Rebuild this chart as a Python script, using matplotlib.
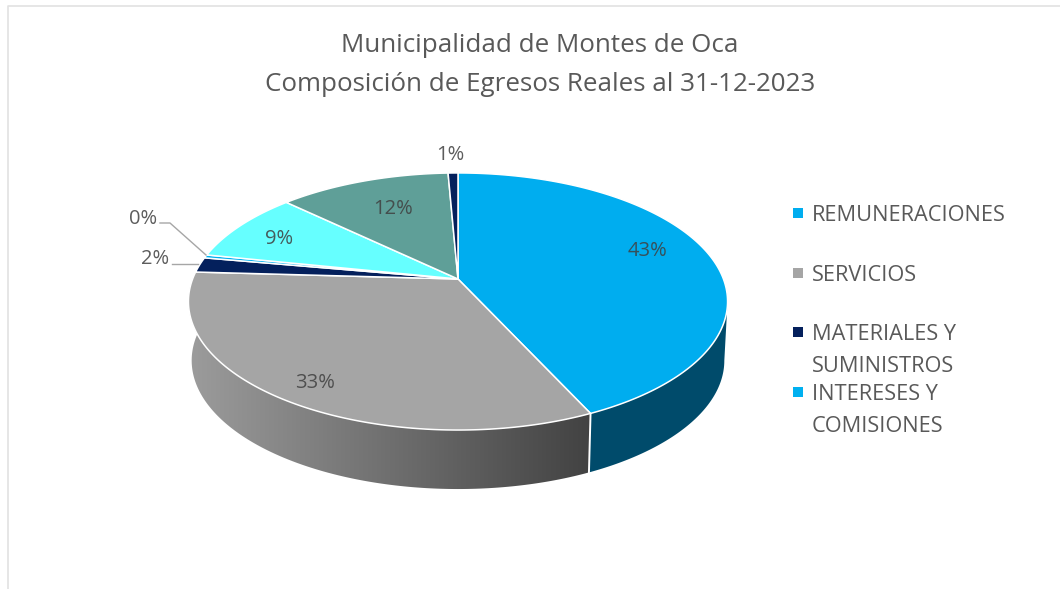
import numpy as np
import matplotlib
matplotlib.use("Agg")
import matplotlib.pyplot as plt
from matplotlib.colors import LinearSegmentedColormap
from matplotlib.patches import Polygon

# Datos
categorias = ["REMUNERACIONES", "SERVICIOS", "MATERIALES Y\nSUMINISTROS", "INTERESES Y\nCOMISIONES", "OTROS", "TRANSFERENCIAS", "INVERSIONES"]
valores = [43.1, 32.8, 1.9, 0.4, 8.9, 12.2, 0.7]
colores = ["#00ADEF", "#A5A5A5", "#04205C", "#00B0F0", "#66FFFF", "#5F9F98", "#04205C"]
titulo = "Municipalidad de Montes de Oca\nComposición de Egresos Reales al 31-12-2023"

# Perspectiva del disco (pixeles)
CX, CY = 458, 279
A, B, K = 265.4, 124.6, 0.175
PROF = 59
ESC_BASE = 0.988

plt.rcParams["font.family"] = ["Open Sans", "DejaVu Sans"]
TEXTO = "#595959"


def proyectar(grados):
    t = np.radians(grados)
    u, v = np.cos(t), np.sin(t)
    d = 1 + K * v
    return CX + A * u / d, CY - B * v / d


def arco(g1, g2):
    n = max(int(abs(g2 - g1) * 2), 3)
    return proyectar(np.linspace(g1, g2, n))


def pared(g1, g2):
    x, y = arco(g1, g2)
    return np.vstack([np.column_stack([x, y]),
                      np.column_stack([CX + (x - CX) * ESC_BASE, y + PROF])[::-1]])


fig = plt.figure(figsize=(10.6, 5.89), dpi=100)
ax = fig.add_axes([0, 0, 1, 1])
ax.set_xlim(0, 1060)
ax.set_ylim(589, 0)
ax.axis("off")

# Marco del grafico
ax.plot([8, 8, 1060], [589, 6, 6], color="#e2e2e2", lw=1.2, zorder=1)

# Angulos de cada porcion (horario desde arriba)
acum = np.cumsum([0] + valores) / sum(valores) * 360
inicio = 90 - acum[:-1]
fin = 90 - acum[1:]

# Pared lateral, solo entre los puntos extremos del disco
silueta = np.degrees(np.arcsin(K))
ax.add_patch(Polygon(pared(-silueta, fin[0]), closed=True, fc="#004B6B", ec="none", zorder=2))

clip = Polygon(pared(inicio[1], -180 - silueta), closed=True, fc="none", ec="none", transform=ax.transData)
ax.add_patch(clip)
cmap = LinearSegmentedColormap.from_list("pared", ["#9C9C9C", "#6F6F6F", "#424242"])
img = ax.imshow(np.linspace(0, 1, 256).reshape(1, -1), extent=(188, 592, 500, 260), cmap=cmap,
                aspect="auto", zorder=2)
img.set_clip_path(clip)
ax.set_xlim(0, 1060)
ax.set_ylim(589, 0)

# Separacion entre paredes
xs, ys = proyectar(fin[0])
ax.plot([xs, CX + (xs - CX) * ESC_BASE], [ys, ys + PROF], color="white", lw=1.4, zorder=3)

# Cara superior
for g1, g2, color in zip(inicio, fin, colores):
    xa, ya = arco(g1, g2)
    ax.fill(np.r_[CX, xa], np.r_[CY, ya], facecolor=color, edgecolor="white", lw=1.1,
            joinstyle="round", zorder=4)

# Etiquetas de porcentaje
pos_etiquetas = [(648, 251), (315, 383), (155, 259), (143, 219), (279, 239), (393, 209), (450, 155)]
for v, (x, y) in zip(valores, pos_etiquetas):
    ax.text(x, y, f"{round(v)}%", ha="center", va="center", fontsize=14.5, color="#404040",
            alpha=0.85, zorder=6)

# Lineas guia
ax.plot([160, 170, 206], [223, 223, 255], color="#A6A6A6", lw=1, zorder=5)
ax.plot([172, 198], [264, 264], color="#A6A6A6", lw=1, zorder=5)

# Titulo
ax.text(540, 65, titulo, ha="center", va="center", fontsize=18.7, color=TEXTO, linespacing=1.76)

# Leyenda
pos_leyenda = [213, 273, 332, 392]
for cat, color, y in zip(categorias[:4], colores[:4], pos_leyenda):
    ax.plot([798], [y], marker="s", ms=6.5, color=color, mew=0, zorder=6)
    ax.text(812, y - 8, cat, ha="left", va="top", fontsize=15.7, color=TEXTO, linespacing=1.68)

fig.savefig("out.png", dpi=100)
